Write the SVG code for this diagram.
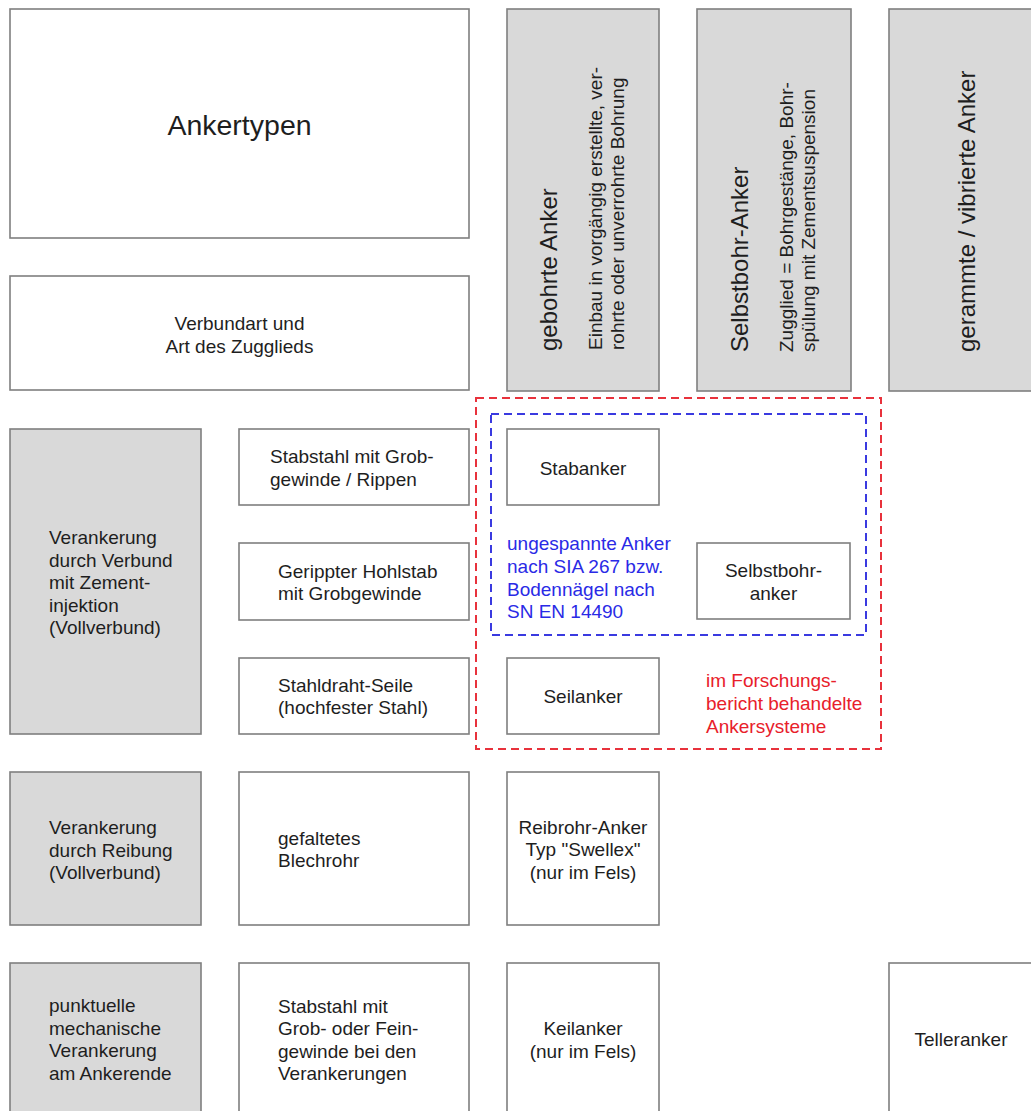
<svg xmlns="http://www.w3.org/2000/svg" width="1031" height="1111" viewBox="0 0 1031 1111">
<style>
  text { font-family: "Liberation Sans", Arial, sans-serif; font-size: 19px; fill: #1e1e1e; }
  .box { fill: #ffffff; stroke: #7f7f7f; stroke-width: 1.6; }
  .gray { fill: #d9d9d9; stroke: #7f7f7f; stroke-width: 1.6; }
  .big { font-size: 24px; }
  .title { font-size: 28.5px; }
  .mid { text-anchor: middle; }
  .red { fill: none; stroke: #e8323c; stroke-width: 2; stroke-dasharray: 8 5; }
  .blue { fill: none; stroke: #3a3ae0; stroke-width: 2; stroke-dasharray: 8 5; }
  .tred { fill: #e8202a; }
  .tblue { fill: #2a2ae6; }
</style>
<rect width="1031" height="1111" fill="#ffffff"/>

<g id="groups">
  <rect class="red" x="476" y="398" width="405" height="351"/>
  <rect class="blue" x="491" y="414" width="375" height="221"/>
</g>

<g id="ankertypen">
  <rect class="box" x="10" y="9" width="459" height="229"/>
  <text class="title mid" x="239.5" y="135">Ankertypen</text>
</g>
<g id="verbundart">
  <rect class="box" x="10" y="276" width="459" height="114"/>
  <text class="mid" x="239.5" y="330">Verbundart und</text>
  <text class="mid" x="239.5" y="352.5">Art des Zugglieds</text>
</g>

<g id="gebohrte">
  <rect class="gray" x="507" y="9" width="152" height="382"/>
  <text class="big" transform="translate(557,351) rotate(-90)">gebohrte Anker</text>
  <text transform="translate(602,350) rotate(-90)">Einbau in vorgängig erstellte, ver-</text>
  <text transform="translate(624,350) rotate(-90)">rohrte oder unverrohrte Bohrung</text>
</g>
<g id="selbstbohr">
  <rect class="gray" x="697" y="9" width="154" height="382"/>
  <text class="big" transform="translate(748,352) rotate(-90)">Selbstbohr-Anker</text>
  <text transform="translate(793,352) rotate(-90)">Zugglied = Bohrgestänge, Bohr-</text>
  <text transform="translate(815,352) rotate(-90)">spülung mit Zementsuspension</text>
</g>
<g id="gerammte">
  <rect class="gray" x="889" y="9" width="150" height="382"/>
  <text class="big" transform="translate(975,352) rotate(-90)">gerammte / vibrierte Anker</text>
</g>

<g id="verbund">
  <rect class="gray" x="10" y="429" width="191" height="305"/>
  <text x="49" y="544">Verankerung</text>
  <text x="49" y="566.5">durch Verbund</text>
  <text x="49" y="589">mit Zement-</text>
  <text x="49" y="611.5">injektion</text>
  <text x="49" y="634">(Vollverbund)</text>
</g>
<g id="stabstahl">
  <rect class="box" x="239" y="429" width="230" height="76"/>
  <text x="270" y="463">Stabstahl mit Grob-</text>
  <text x="270" y="485.5">gewinde / Rippen</text>
</g>
<g id="hohlstab">
  <rect class="box" x="239" y="543" width="230" height="77"/>
  <text x="278" y="577.5">Gerippter Hohlstab</text>
  <text x="278" y="600">mit Grobgewinde</text>
</g>
<g id="seile">
  <rect class="box" x="239" y="658" width="230" height="76"/>
  <text x="278" y="691.5">Stahldraht-Seile</text>
  <text x="278" y="714">(hochfester Stahl)</text>
</g>
<g id="stabanker">
  <rect class="box" x="507" y="429" width="152" height="76"/>
  <text class="mid" x="583" y="475">Stabanker</text>
</g>
<g id="selbstbohranker">
  <rect class="box" x="697" y="543" width="153" height="76"/>
  <text class="mid" x="773.5" y="577">Selbstbohr-</text>
  <text class="mid" x="773.5" y="600">anker</text>
</g>
<g id="seilanker">
  <rect class="box" x="507" y="658" width="152" height="76"/>
  <text class="mid" x="583" y="703">Seilanker</text>
</g>
<g id="label-blue">
  <text class="tblue" x="507" y="550">ungespannte Anker</text>
  <text class="tblue" x="507" y="573">nach SIA 267 bzw.</text>
  <text class="tblue" x="507" y="595.5">Bodennägel nach</text>
  <text class="tblue" x="507" y="618">SN EN 14490</text>
</g>
<g id="label-red">
  <text class="tred" x="706" y="687">im Forschungs-</text>
  <text class="tred" x="706" y="710">bericht behandelte</text>
  <text class="tred" x="706" y="732.5">Ankersysteme</text>
</g>

<g id="reibung">
  <rect class="gray" x="10" y="772" width="191" height="153"/>
  <text x="49" y="834">Verankerung</text>
  <text x="49" y="856.5">durch Reibung</text>
  <text x="49" y="879">(Vollverbund)</text>
</g>
<g id="blechrohr">
  <rect class="box" x="239" y="772" width="230" height="153"/>
  <text x="278" y="845">gefaltetes</text>
  <text x="278" y="867">Blechrohr</text>
</g>
<g id="reibrohr">
  <rect class="box" x="507" y="772" width="152" height="153"/>
  <text class="mid" x="583" y="833.5">Reibrohr-Anker</text>
  <text class="mid" x="583" y="856">Typ "Swellex"</text>
  <text class="mid" x="583" y="878.5">(nur im Fels)</text>
</g>

<g id="punktuell">
  <rect class="gray" x="10" y="963" width="191" height="160"/>
  <text x="49" y="1012">punktuelle</text>
  <text x="49" y="1034.5">mechanische</text>
  <text x="49" y="1057">Verankerung</text>
  <text x="49" y="1079.5">am Ankerende</text>
</g>
<g id="stabstahl2">
  <rect class="box" x="239" y="963" width="230" height="160"/>
  <text x="278" y="1012.5">Stabstahl mit</text>
  <text x="278" y="1035">Grob- oder Fein-</text>
  <text x="278" y="1057.5">gewinde bei den</text>
  <text x="278" y="1080">Verankerungen</text>
</g>
<g id="keilanker">
  <rect class="box" x="507" y="963" width="152" height="160"/>
  <text class="mid" x="583" y="1035">Keilanker</text>
  <text class="mid" x="583" y="1057.5">(nur im Fels)</text>
</g>
<g id="telleranker">
  <rect class="box" x="889" y="963" width="150" height="160"/>
  <text class="mid" x="961" y="1046">Telleranker</text>
</g>
</svg>
